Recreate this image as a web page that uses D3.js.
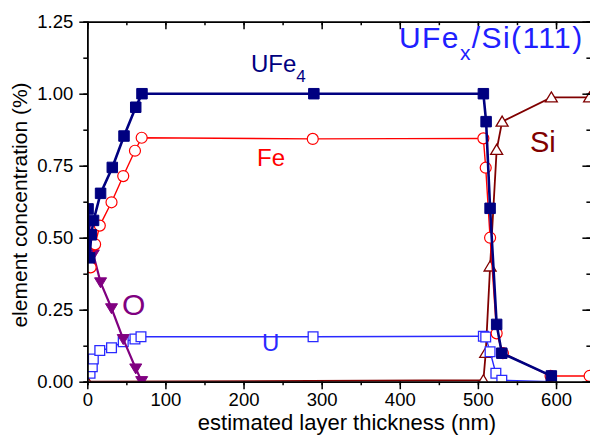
<!DOCTYPE html>
<html>
<head>
<meta charset="utf-8">
<script src="https://cdn.jsdelivr.net/npm/d3@7"></script>
<style>
  body { margin: 0; background: #fff; }
  svg { display: block; font-family: "Liberation Sans", Arial, sans-serif; }
  .axis path, .axis line { stroke: #000; stroke-width: 1.5; }
  .axis text { font-size: 18.5px; fill: #000; }
</style>
</head>
<body>
<svg width="590" height="437"></svg>
<script>
// depth (nm) and concentration values
var ufe4X = [1, 3, 5, 8, 17, 32, 47, 62, 70, 290, 507, 510.5, 515.6, 524, 530.6, 594];
var ufe4Y = [0.60, 0.43, 0.51, 0.56, 0.654, 0.744, 0.853, 0.953, 1.00, 1.00, 1.00, 0.903, 0.602, 0.199, 0.099, 0.02];

var feX = [4.3, 10, 16, 31, 46, 61, 69.6, 288.6, 507, 510, 515.6, 524, 532, 593, 643];
var feY = [0.397, 0.477, 0.542, 0.623, 0.714, 0.802, 0.847, 0.843, 0.845, 0.743, 0.50, 0.168, 0.099, 0.02, 0.02];

var uX = [3.5, 6.4, 7.7, 16, 31, 46, 61, 68.7, 289, 507, 510, 515.6, 523, 530.6, 594];
var uY = [0.029, 0.052, 0.079, 0.108, 0.118, 0.139, 0.148, 0.156, 0.156, 0.158, 0.155, 0.104, 0.029, 0.005, 0.0];

var oX = [2, 7.7, 17, 31, 46, 62, 69.6];
var oY = [0.55, 0.442, 0.345, 0.255, 0.148, 0.046, 0.002];

var siX = [0, 507, 510, 515.6, 524, 531, 594, 643];
var siY = [0, 0.005, 0.10, 0.40, 0.805, 0.903, 0.987, 0.987];

var xMajor = [0, 100, 200, 300, 400, 500, 600];
var yMajor = [0, 0.25, 0.5, 0.75, 1.0, 1.25];

function drawChart() {
  var svg = d3.select("svg"),
      pLeft = 87.3, pRight = 590.4, pTop = 21.7, pBottom = 381.7;

  var x = d3.scaleLinear().domain([0, 644]).range([pLeft, pRight]);
  var y = d3.scaleLinear().domain([0, 1.25]).range([pBottom, pTop]);

  function pts(xs, ys) {
    return xs.map(function(d, i) { return {x: d, y: ys[i]}; });
  }

  svg.append("clipPath").attr("id", "plot")
    .append("rect")
      .attr("x", pLeft).attr("y", pTop)
      .attr("width", pRight - pLeft).attr("height", pBottom - pTop);

  var plot = svg.append("g").attr("clip-path", "url(#plot)");

  var line = d3.line()
    .x(function(d) { return x(d.x); })
    .y(function(d) { return y(d.y); });

  var up = "M0,-5.5L6,4.5L-6,4.5Z",
      down = "M0,5.5L6,-4.5L-6,-4.5Z";

  // drawing order: bottom series first
  var series = [
    {data: pts(siX, siY), color: "#800000", width: 1.8, shape: up, fill: "#fff", sw: 1.3},
    {data: pts(uX, uY), color: "#2a2aff", width: 1.4, shape: d3.symbol().type(d3.symbolSquare).size(95)(), fill: "#fff", sw: 1.3},
    {data: pts(oX, oY), color: "#800080", width: 2.2, shape: down, fill: "#800080", sw: 1},
    {data: pts(feX, feY), color: "#ff0000", width: 1.4, shape: d3.symbol().type(d3.symbolCircle).size(95)(), fill: "#fff", sw: 1.2},
    {data: pts(ufe4X, ufe4Y), color: "#000080", width: 2.6, shape: d3.symbol().type(d3.symbolSquare).size(110)(), fill: "#000080", sw: 1}
  ];

  series.forEach(function(s) {
    var g = plot.append("g");
    g.append("path")
      .datum(s.data)
      .attr("fill", "none")
      .attr("stroke", s.color)
      .attr("stroke-width", s.width)
      .attr("d", line);
    g.selectAll("path.pt")
      .data(s.data)
      .enter().append("path")
        .attr("class", "pt")
        .attr("transform", function(d) { return "translate(" + x(d.x) + "," + y(d.y) + ")"; })
        .attr("d", s.shape)
        .attr("fill", s.fill)
        .attr("stroke", s.color)
        .attr("stroke-width", s.sw);
  });

  // axes: minor ticks first, then majors with labels
  var fmt = d3.format(".2f");
  var xMinor = d3.range(0, 650, 50),
      yMinor = d3.range(0, 1.3, 0.125);

  svg.append("g").attr("class", "axis")
    .attr("transform", "translate(0," + pBottom + ")")
    .call(d3.axisBottom(x).tickValues(xMinor).tickSize(3.5).tickFormat(""));
  svg.append("g").attr("class", "axis")
    .attr("transform", "translate(0," + pBottom + ")")
    .call(d3.axisBottom(x).tickValues(xMajor).tickSize(7.5).tickPadding(4).tickSizeOuter(0));

  svg.append("g").attr("class", "axis")
    .attr("transform", "translate(0," + pTop + ")")
    .call(d3.axisTop(x).tickValues(xMinor).tickSize(-3.5).tickFormat(""));
  svg.append("g").attr("class", "axis")
    .attr("transform", "translate(0," + pTop + ")")
    .call(d3.axisTop(x).tickValues(xMajor).tickSize(-7.5).tickFormat("").tickSizeOuter(0));

  svg.append("g").attr("class", "axis")
    .attr("transform", "translate(" + pLeft + ",0)")
    .call(d3.axisLeft(y).tickValues(yMinor).tickSize(4).tickFormat(""));
  svg.append("g").attr("class", "axis")
    .attr("transform", "translate(" + pLeft + ",0)")
    .call(d3.axisLeft(y).tickValues(yMajor).tickSize(8).tickPadding(6).tickFormat(fmt).tickSizeOuter(0));

  svg.append("g").attr("class", "axis")
    .attr("transform", "translate(" + pRight + ",0)")
    .call(d3.axisRight(y).tickValues(yMinor).tickSize(-4).tickFormat(""));
  svg.append("g").attr("class", "axis")
    .attr("transform", "translate(" + pRight + ",0)")
    .call(d3.axisRight(y).tickValues(yMajor).tickSize(-8).tickFormat("").tickSizeOuter(0));

  // axis titles
  svg.append("text")
    .attr("x", 347).attr("y", 430)
    .attr("text-anchor", "middle")
    .style("font-size", "22px")
    .text("estimated layer thickness (nm)");

  svg.append("text")
    .attr("transform", "translate(27,205) rotate(-90)")
    .attr("text-anchor", "middle")
    .style("font-size", "21px")
    .text("element concentration (%)");

  // series labels
  var t1 = svg.append("text").attr("x", 251).attr("y", 72)
    .style("font-size", "24px").attr("fill", "#000080");
  t1.append("tspan").text("UFe");
  t1.append("tspan").attr("dy", 10).style("font-size", "17px").text("4");

  svg.append("text").attr("x", 257).attr("y", 166)
    .style("font-size", "24px").attr("fill", "#ff0000").text("Fe");
  svg.append("text").attr("x", 262).attr("y", 351)
    .style("font-size", "24px").attr("fill", "#2a2aff").text("U");
  svg.append("text").attr("x", 122).attr("y", 315)
    .style("font-size", "30px").attr("fill", "#800080").text("O");
  svg.append("text").attr("x", 530).attr("y", 152)
    .style("font-size", "29px").attr("fill", "#800000").text("Si");

  var t2 = svg.append("text").attr("x", 399).attr("y", 48)
    .style("font-size", "30px").style("letter-spacing", "1.4px").attr("fill", "#2020ff");
  t2.append("tspan").text("UFe");
  t2.append("tspan").attr("dy", 12).style("font-size", "21px").text("x");
  t2.append("tspan").attr("dy", -12).text("/Si(111)");
}

drawChart();
</script>
</body>
</html>
